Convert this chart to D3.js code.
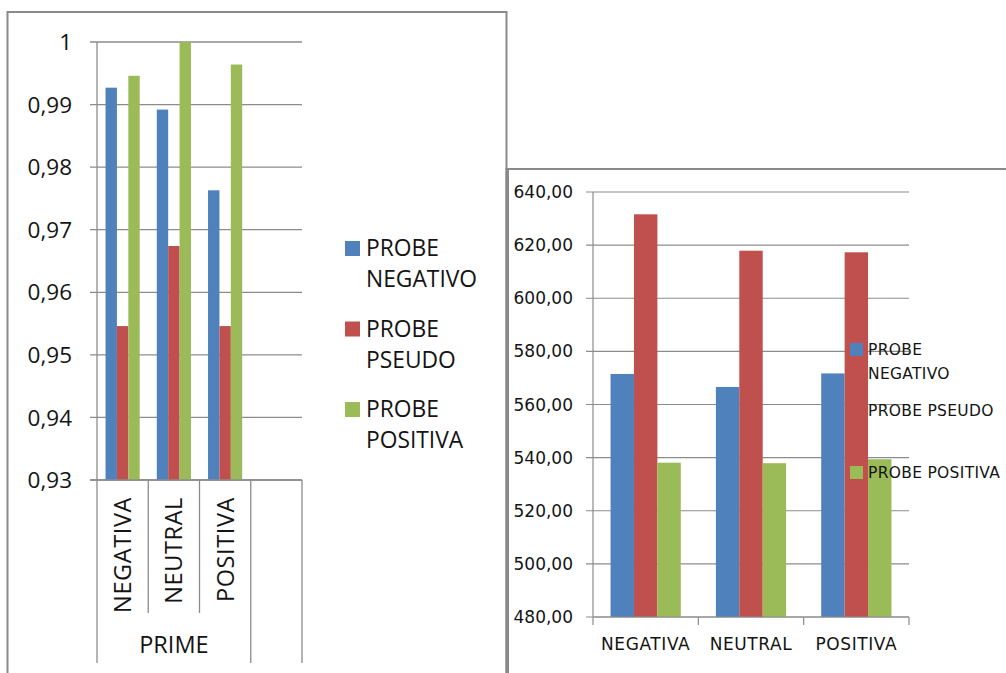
<!DOCTYPE html>
<html>
<head>
<meta charset="utf-8">
<script src="https://cdn.jsdelivr.net/npm/d3@7"></script>
<style>
  html, body { margin: 0; padding: 0; background: #ffffff; }
  svg { display: block; }
</style>
</head>
<body>
<svg id="chart" width="1006" height="673"></svg>
<script>
// Categories and series shared by both panels
const categories = ["NEGATIVA", "NEUTRAL", "POSITIVA"];
const seriesNames = ["PROBE NEGATIVO", "PROBE PSEUDO", "PROBE POSITIVA"];
const seriesColors = ["#4F81BD", "#C0504D", "#9BBB59"];

// Left panel: proportions per prime
const propNegativo = [0.9927, 0.9892, 0.9763];
const propPseudo   = [0.9546, 0.9674, 0.9546];
const propPositiva = [0.9946, 1.0000, 0.9964];
const propTicks = [0.93, 0.94, 0.95, 0.96, 0.97, 0.98, 0.99, 1];
const propGroupLabel = "PRIME";

// Right panel: response times per prime
const rtNegativo = [571.5, 566.6, 571.7];
const rtPseudo   = [631.6, 617.9, 617.3];
const rtPositiva = [538.1, 537.9, 539.4];
const rtTicks = [480, 500, 520, 540, 560, 580, 600, 620, 640];

const svg = d3.select("#chart");
const gridColor = "#8c8c8c";
const textColor = "#141414";

// ---------- Left panel ----------
const left = svg.append("g");
left.append("rect")
  .attr("x", 7.5).attr("y", 12).attr("width", 499).attr("height", 700)
  .attr("fill", "#ffffff").attr("stroke", "#8a8a8a").attr("stroke-width", 2);

const lx = d3.scaleBand().domain([...categories, ""]).range([97, 302]);
const ly = d3.scaleLinear().domain([0.93, 1]).range([480, 42]);
const lInner = d3.scaleBand().domain(seriesNames).range([0, lx.bandwidth()])
  .paddingInner(0).paddingOuter(0.75);
const lFont = "'Open Sans', sans-serif";

// horizontal gridlines with tick stubs
left.append("g").selectAll("line").data(propTicks).join("line")
  .attr("x1", 90).attr("x2", 302)
  .attr("y1", d => ly(d)).attr("y2", d => ly(d))
  .attr("stroke", gridColor).attr("stroke-width", 1.3);

left.append("g").selectAll("text").data(propTicks).join("text")
  .attr("x", 72).attr("y", d => ly(d)).attr("dy", "0.36em")
  .attr("text-anchor", "end")
  .attr("font-family", lFont).attr("font-size", 22.5).attr("fill", textColor)
  .text(d => d === 1 ? "1" : d3.format(".2f")(d).replace(".", ","));

// bars
const propSeries = [propNegativo, propPseudo, propPositiva];
propSeries.forEach((vals, si) => {
  left.append("g").selectAll("rect").data(vals).join("rect")
    .attr("x", (d, i) => lx(categories[i]) + lInner(seriesNames[si]))
    .attr("width", lInner.bandwidth())
    .attr("y", d => ly(d))
    .attr("height", d => ly(0.93) - ly(d))
    .attr("fill", seriesColors[si]);
});

// category axis: vertical dividers (outer ones run past the group label)
const lEdges = [...categories, ""].map(c => lx(c)).concat([lx.range()[1]]);
left.append("g").selectAll("line").data(lEdges).join("line")
  .attr("x1", d => d).attr("x2", d => d)
  .attr("y1", (d, i) => i === 0 ? 42 : 480)
  .attr("y2", (d, i) => (i === 0 || i >= 3) ? 663 : 613)
  .attr("stroke", gridColor).attr("stroke-width", 1.3);
// x axis baseline
left.append("line").attr("x1", 90).attr("x2", 302)
  .attr("y1", ly(0.93)).attr("y2", ly(0.93))
  .attr("stroke", gridColor).attr("stroke-width", 1.3);

left.append("g").selectAll("text").data(categories).join("text")
  .attr("transform", d => `translate(${lx(d) + lx.bandwidth() / 2},497) rotate(-90)`)
  .attr("dy", "0.36em")
  .attr("text-anchor", "end")
  .attr("font-family", lFont).attr("font-size", 23.5).attr("letter-spacing", 0.6)
  .attr("fill", textColor)
  .text(d => d);

left.append("text")
  .attr("x", (lx(categories[0]) + lx(categories[2]) + lx.bandwidth()) / 2)
  .attr("y", 653).attr("text-anchor", "middle")
  .attr("font-family", lFont).attr("font-size", 23.5).attr("fill", textColor)
  .text(propGroupLabel);

// legend, labels wrapped onto two lines
const lLegend = left.append("g").selectAll("g").data(seriesNames).join("g")
  .attr("transform", (d, i) => `translate(345,${256 + i * 80.5})`);
lLegend.append("rect").attr("x", 0).attr("y", -15).attr("width", 15).attr("height", 15)
  .attr("fill", (d, i) => seriesColors[i]);
lLegend.append("text")
  .attr("font-family", lFont).attr("font-size", 22.8).attr("fill", textColor)
  .selectAll("tspan").data(d => d.split(" ")).join("tspan")
  .attr("x", 21).attr("y", (d, i) => i * 31)
  .text(d => d);

// ---------- Right panel ----------
const right = svg.append("g");
right.append("rect")
  .attr("x", 508).attr("y", 169).attr("width", 520).attr("height", 520)
  .attr("fill", "#ffffff").attr("stroke", "#8a8a8a").attr("stroke-width", 2);
right.append("line").attr("x1", 506.5).attr("x2", 506.5).attr("y1", 168).attr("y2", 673)
  .attr("stroke", "#8a8a8a").attr("stroke-width", 2);

const rx = d3.scaleBand().domain(categories).range([593, 909]);
const ry = d3.scaleLinear().domain([480, 640]).range([617, 192]);
const rInner = d3.scaleBand().domain(seriesNames).range([0, rx.bandwidth()])
  .paddingInner(0).paddingOuter(0.75);
const rFont = "'DejaVu Sans', Verdana, sans-serif";

right.append("g").selectAll("line").data(rtTicks).join("line")
  .attr("x1", 586).attr("x2", 909)
  .attr("y1", d => ry(d)).attr("y2", d => ry(d))
  .attr("stroke", gridColor).attr("stroke-width", 1.2);

right.append("g").selectAll("text").data(rtTicks).join("text")
  .attr("x", 573).attr("y", d => ry(d)).attr("dy", "0.36em")
  .attr("text-anchor", "end")
  .attr("font-family", rFont).attr("font-size", 17).attr("fill", textColor)
  .text(d => d3.format(".2f")(d).replace(".", ","));

const rtSeries = [rtNegativo, rtPseudo, rtPositiva];
rtSeries.forEach((vals, si) => {
  right.append("g").selectAll("rect").data(vals).join("rect")
    .attr("x", (d, i) => rx(categories[i]) + rInner(seriesNames[si]))
    .attr("width", rInner.bandwidth())
    .attr("y", d => ry(d))
    .attr("height", d => ry(480) - ry(d))
    .attr("fill", seriesColors[si]);
});

// axes lines and category tick marks
right.append("line").attr("x1", 593).attr("x2", 593).attr("y1", ry(640)).attr("y2", ry(480))
  .attr("stroke", gridColor).attr("stroke-width", 1.2);
right.append("line").attr("x1", 593).attr("x2", 909).attr("y1", ry(480)).attr("y2", ry(480))
  .attr("stroke", gridColor).attr("stroke-width", 1.2);
const rEdges = categories.map(c => rx(c)).concat([rx.range()[1]]);
right.append("g").selectAll("line").data(rEdges).join("line")
  .attr("x1", d => d).attr("x2", d => d)
  .attr("y1", ry(480)).attr("y2", ry(480) + 8)
  .attr("stroke", gridColor).attr("stroke-width", 1.2);

right.append("g").selectAll("text").data(categories).join("text")
  .attr("x", d => rx(d) + rx.bandwidth() / 2).attr("y", 650)
  .attr("text-anchor", "middle")
  .attr("font-family", rFont).attr("font-size", 17).attr("letter-spacing", 0.6)
  .attr("fill", textColor)
  .text(d => d);

// legend drawn over the plot
const rLegendRows = [["PROBE", "NEGATIVO"], ["PROBE PSEUDO"], ["PROBE POSITIVA"]];
const rLegendY = [355, 416, 478];
const rLegend = right.append("g").selectAll("g").data(rLegendRows).join("g")
  .attr("transform", (d, i) => `translate(850,${rLegendY[i]})`);
rLegend.append("rect").attr("x", 0).attr("y", -12).attr("width", 13).attr("height", 13)
  .attr("fill", (d, i) => seriesColors[i]);
rLegend.append("text")
  .attr("font-family", rFont).attr("font-size", 15.5).attr("letter-spacing", 0.3)
  .attr("fill", textColor)
  .selectAll("tspan").data(d => d).join("tspan")
  .attr("x", 18).attr("y", (d, i) => i * 24)
  .text(d => d);
</script>
</body>
</html>
